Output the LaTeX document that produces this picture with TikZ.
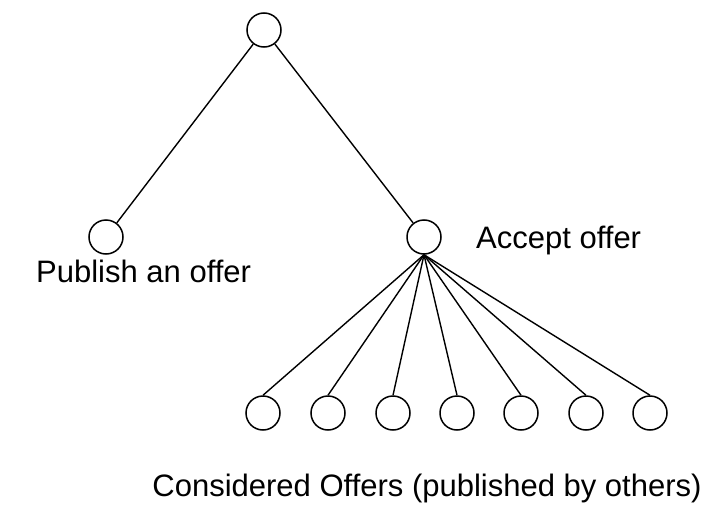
\documentclass[tikz,border=0pt]{standalone}
\usepackage{fontspec}
\setmainfont{Liberation Sans}
\usetikzlibrary{positioning}
\tikzstyle{state} = [circle, draw=black, line width=1.5pt, minimum size=34pt, inner sep=0pt]
\tikzstyle{edge} = [draw=black, line width=1.4pt]
\tikzstyle{offertext} = [inner sep=0pt, font=\fontsize{31}{31}\selectfont]

\begin{document}
\begin{tikzpicture}[x=1pt, y=-1pt]
\useasboundingbox (0,0) rectangle (726,522);

\node (root) [state] at (264,30) {};
\node (publish) [state] at (106,237) {};
\node (accept) [state] at (424,237) {};
\foreach \i/\x in {1/263,2/328,3/393,4/457,5/521,6/586,7/650}
  \node (offer\i) [state] at (\x,413) {};

\draw [edge] (root) -- (publish);
\draw [edge] (root) -- (accept);
\foreach \i in {1,...,7}
  \draw [edge] (accept.south) -- (offer\i.north);

\node (accepttext) [offertext, anchor=base west] at (476,248) {Accept offer};
\node (publishtext) [offertext, anchor=base west] at (36,282) {Publish an offer};
\node (offerstext) [offertext, anchor=base] at (427,496) {Considered Offers (published by others)};
\end{tikzpicture}
\end{document}
